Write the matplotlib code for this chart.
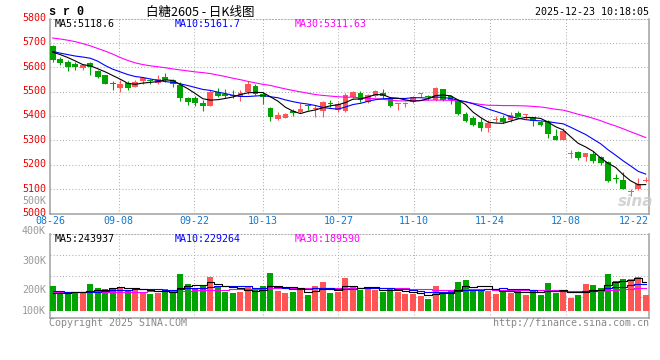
import numpy as np
import matplotlib
matplotlib.use("Agg")
import matplotlib.pyplot as plt
from matplotlib.transforms import ScaledTranslation

# ---------------- data ----------------
date_labels = ['08-26', '09-08', '09-22', '10-13', '10-27', '11-10', '11-24', '12-08', '12-22']
date_idx = [0, 9, 19, 28, 38, 48, 58, 68, 78]

open_ = [5686, 5634, 5621, 5612, 5598, 5617, 5585, 5567, 5532, 5515,
         5537, 5519, 5544, 5545, 5537, 5559, 5546, 5526, 5472, 5475,
         5454, 5441, 5497, 5492, 5485, 5479, 5499, 5522, 5492, 5434,
         5388, 5393, 5420, 5418, 5445, 5429, 5422, 5453, 5424, 5420,
         5479, 5495, 5458, 5481, 5495, 5472, 5451, 5451, 5458, 5489,
         5482, 5465, 5510, 5481, 5461, 5408, 5393, 5377, 5352, 5385,
         5393, 5384, 5412, 5403, 5395, 5377, 5377, 5319, 5302, 5243,
         5251, 5232, 5245, 5230, 5211, 5143, 5139, 5088, 5099, 5134]
high = [5690, 5641, 5631, 5621, 5614, 5623, 5590, 5569, 5544, 5547,
        5542, 5547, 5560, 5553, 5567, 5576, 5553, 5540, 5479, 5484,
        5465, 5508, 5516, 5509, 5506, 5506, 5544, 5533, 5499, 5438,
        5415, 5414, 5430, 5452, 5449, 5445, 5462, 5465, 5458, 5496,
        5503, 5502, 5492, 5506, 5509, 5479, 5454, 5458, 5481, 5495,
        5488, 5520, 5512, 5486, 5465, 5418, 5400, 5393, 5384, 5400,
        5404, 5415, 5420, 5407, 5397, 5381, 5384, 5346, 5350, 5259,
        5255, 5248, 5255, 5237, 5214, 5164, 5169, 5101, 5146, 5150]
low = [5622, 5609, 5585, 5587, 5589, 5567, 5556, 5530, 5508, 5500,
       5508, 5517, 5530, 5533, 5530, 5540, 5519, 5462, 5446, 5443,
       5420, 5440, 5479, 5472, 5475, 5462, 5490, 5485, 5449, 5381,
       5384, 5390, 5401, 5411, 5424, 5395, 5397, 5438, 5415, 5418,
       5472, 5458, 5452, 5479, 5472, 5435, 5424, 5435, 5454, 5479,
       5465, 5462, 5462, 5451, 5404, 5377, 5359, 5340, 5336, 5374,
       5373, 5374, 5395, 5386, 5361, 5357, 5309, 5300, 5300, 5228,
       5221, 5214, 5207, 5200, 5130, 5126, 5099, 5071, 5096, 5128]
close = [5628, 5617, 5601, 5601, 5609, 5600, 5560, 5533, 5530, 5533,
         5516, 5540, 5557, 5543, 5551, 5548, 5530, 5472, 5458, 5452,
         5443, 5499, 5484, 5481, 5483, 5495, 5533, 5492, 5479, 5397,
         5404, 5410, 5411, 5430, 5441, 5431, 5458, 5451, 5449, 5488,
         5499, 5465, 5487, 5502, 5481, 5441, 5453, 5453, 5479, 5491,
         5480, 5515, 5465, 5465, 5407, 5381, 5363, 5352, 5373, 5387,
         5377, 5404, 5397, 5405, 5381, 5363, 5327, 5302, 5340, 5245,
         5228, 5248, 5214, 5207, 5133, 5141, 5101, 5090, 5123, 5136]

ma5 = [5662, 5652, 5640, 5626, 5611, 5606, 5594, 5581, 5566, 5551,
       5534, 5530, 5535, 5538, 5541, 5548, 5546, 5529, 5512, 5492,
       5471, 5465, 5467, 5472, 5478, 5488, 5495, 5497, 5496, 5479,
       5461, 5436, 5420, 5410, 5419, 5425, 5434, 5442, 5446, 5455,
       5469, 5470, 5478, 5488, 5487, 5475, 5473, 5466, 5461, 5463,
       5471, 5484, 5486, 5483, 5466, 5447, 5416, 5394, 5375, 5371,
       5370, 5379, 5388, 5394, 5393, 5390, 5375, 5356, 5343, 5315,
       5288, 5273, 5255, 5228, 5206, 5189, 5159, 5134, 5118, 5118.6]
ma10 = [5665, 5658, 5652, 5646, 5642, 5637, 5625, 5607, 5592, 5581,
        5570, 5562, 5558, 5552, 5546, 5541, 5538, 5532, 5525, 5517,
        5509, 5505, 5498, 5492, 5485, 5480, 5480, 5482, 5484, 5479,
        5475, 5466, 5459, 5453, 5449, 5443, 5435, 5431, 5428, 5437,
        5447, 5452, 5460, 5467, 5471, 5472, 5472, 5472, 5475, 5475,
        5473, 5478, 5476, 5472, 5465, 5459, 5450, 5440, 5429, 5419,
        5409, 5397, 5391, 5385, 5382, 5380, 5377, 5372, 5368, 5354,
        5339, 5324, 5305, 5286, 5261, 5239, 5216, 5195, 5173, 5161.7]
ma30 = [5720, 5716, 5711, 5705, 5697, 5688, 5677, 5666, 5654, 5640,
        5628, 5618, 5611, 5606, 5602, 5598, 5593, 5589, 5585, 5581,
        5578, 5574, 5568, 5562, 5555, 5549, 5542, 5536, 5530, 5525.5,
        5518.0, 5511.1, 5504.8, 5499.1, 5493.5, 5487.9, 5484.5, 5481.7, 5479.0, 5477.5,
        5477.0, 5474.5, 5472.1, 5470.8, 5468.4, 5464.9, 5462.3, 5461.7, 5462.4, 5463.7,
        5464.9, 5465.4, 5464.8, 5464.3, 5461.7, 5457.9, 5452.3, 5447.6, 5444.1, 5443.7,
        5442.8, 5442.6, 5442.2, 5441.3, 5439.3, 5437.1, 5432.7, 5427.7, 5424.1, 5416.0,
        5407.0, 5399.7, 5390.6, 5380.8, 5369.2, 5359.2, 5347.5, 5335.4, 5323.5, 5311.63]

volume_k = [210, 148, 148, 148, 148, 227, 193, 185, 193, 202,
            176, 193, 162, 142, 148, 185, 170, 312, 227, 185,
            210, 287, 213, 159, 151, 159, 199, 173, 210, 320,
            168, 151, 159, 176, 134, 210, 244, 151, 162, 278,
            199, 176, 182, 176, 162, 185, 156, 142, 142, 125,
            100, 210, 159, 176, 244, 261, 185, 182, 170, 142,
            176, 153, 176, 134, 176, 134, 236, 151, 176, 108,
            134, 227, 219, 193, 312, 253, 270, 270, 287, 134]
vma5 = [150, 150, 152, 155, 160, 164, 173, 180, 189, 200,
        190, 190, 185, 175, 164, 166, 161, 191, 208, 216,
        221, 244, 224, 211, 204, 194, 176, 168, 178, 212,
        214, 204, 202, 195, 158, 166, 185, 183, 180, 209,
        207, 193, 199, 202, 179, 176, 172, 164, 157, 150,
        133, 144, 147, 154, 178, 210, 205, 210, 208, 188,
        171, 165, 163, 156, 163, 155, 171, 166, 175, 161,
        161, 159, 173, 176, 217, 241, 249, 260, 278, 243.9]
vma10 = [167, 165, 162, 160, 158, 158, 160, 165, 172, 180,
         177, 181, 183, 182, 182, 178, 176, 188, 192, 190,
         193, 203, 208, 210, 210, 207, 210, 196, 195, 208,
         204, 190, 185, 187, 185, 190, 195, 192, 188, 183,
         186, 189, 191, 191, 194, 192, 183, 182, 180, 165,
         155, 158, 156, 156, 164, 172, 174, 178, 181, 183,
         191, 185, 187, 182, 176, 163, 168, 165, 165, 162,
         158, 165, 170, 175, 189, 201, 204, 216, 227, 229.3]
vma30 = [155, 155, 156, 156, 157, 157, 158, 158, 159, 160,
         161, 162, 163, 164, 165, 166, 167, 168, 170, 172,
         174, 176, 178, 180, 182, 184, 186, 188, 190, 192.8,
         191.4, 191.5, 191.8, 192.8, 192.3, 191.7, 193.4, 192.3, 191.3, 193.8,
         194.6, 194.0, 194.7, 195.8, 196.3, 196.3, 195.8, 190.1, 187.3, 185.3,
         181.6, 179.1, 177.3, 177.8, 180.9, 184.3, 183.9, 184.2, 182.8, 176.9,
         177.2, 177.2, 177.8, 176.4, 177.8, 175.3, 175.0, 175.0, 175.5, 169.8,
         167.6, 169.3, 170.6, 171.1, 176.1, 178.4, 182.2, 186.5, 191.3, 189.59]

price_ticks = [5000, 5100, 5200, 5300, 5400, 5500, 5600, 5700, 5800]
vol_tick_labels = ['500K', '400K', '300K', '200K', '100K']

# ---------------- style ----------------
W, H = 660, 360
RED = '#ff5555'
GREEN = '#00a400'
GRID = '#b0b0b0'
SPINE = '#a0a0a0'
MONO = ['DejaVu Sans Mono']
CJK = ['Noto Sans CJK SC', 'DejaVu Sans']
DOT = (0, (1, 2))

fig = plt.figure(figsize=(6.6, 3.6), dpi=100)
fig.patch.set_facecolor('white')


def rect(l, t, r, b):
    return [l / W, 1 - b / H, (r - l) / W, (b - t) / H]


ax = fig.add_axes(rect(50.5, 18.5, 649, 213.5))
axv = fig.add_axes(rect(50.5, 234, 649, 318))

o = np.array(open_, float)
c = np.array(close, float)
hi = np.array(high, float)
lo = np.array(low, float)
n = len(c)
x = np.arange(n)
XL = (-0.293, 79.44)
colors = [RED if cc >= oo else GREEN for oo, cc in zip(o, c)]

# grid positions on the date scale
gx = [XL[0] + i * (XL[1] - XL[0]) / 79 for i in date_idx]

for a in (ax, axv):
    a.set_xlim(*XL)
    a.set_xticks([])
    for g in gx[1:-1]:
        a.axvline(g, color=GRID, lw=0.75, ls=DOT, zorder=1)
    for s in ('left', 'right', 'bottom'):
        a.spines[s].set_color(SPINE)
        a.spines[s].set_linewidth(1.1)
    a.spines['top'].set_color(GRID)
    a.spines['top'].set_linestyle(DOT)
    a.spines['top'].set_linewidth(0.75)
    a.tick_params(length=0)

# ---- price panel ----
ax.set_ylim(5000, 5800)
for p in price_ticks[1:-1]:
    ax.axhline(p, color=GRID, lw=0.75, ls=DOT, zorder=1)
ax.vlines(x, lo, hi, colors=colors, lw=0.8, zorder=3)
body_lo = np.minimum(o, c)
body_h = np.maximum(np.abs(c - o), 4.0)
ax.bar(x, body_h, bottom=body_lo, width=0.76, color=colors, lw=0, zorder=4)
ax.plot(x, ma30, color='#ff00ff', lw=0.8, zorder=5)
ax.plot(x, ma10, color='#0000ff', lw=0.8, zorder=5)
ax.plot(x, ma5, color='#000000', lw=0.8, zorder=6)

ax.set_yticks(price_ticks)
ax.set_yticklabels([str(p) for p in price_ticks], color='#ee0000',
                   fontsize=7.2, family=MONO)
ax.tick_params(axis='y', pad=3.2)
off = ScaledTranslation(0, 1.6 / 100, fig.dpi_scale_trans)
for lab in ax.get_yticklabels():
    lab.set_transform(lab.get_transform() + off)

# date labels
for i, (lbl, gpos) in enumerate(zip(date_labels, gx)):
    if i == len(date_labels) - 1:
        ax.text(1.0, -0.041, lbl, transform=ax.transAxes, ha='right', va='center',
                color='#1177cc', fontsize=7.2, family=MONO)
    else:
        ax.text(gpos, -0.041, lbl, transform=ax.get_xaxis_transform(), ha='center',
                va='center', color='#1177cc', fontsize=7.2, family=MONO)

# ---- volume panel ----
vol = np.array(volume_k, float)
axv.set_ylim(-62.05, 651.95)
for f in (0.25, 0.5, 0.75):
    axv.plot([0, 1], [f, f], transform=axv.transAxes, color=GRID, lw=0.75,
             ls=DOT, zorder=1)
axv.bar(x, vol, width=0.8, color=colors, lw=0, zorder=3)
axv.plot(x, vma30, color='#ff00ff', lw=0.8, drawstyle='steps-mid', zorder=4)
axv.plot(x, vma10, color='#0000ff', lw=0.8, drawstyle='steps-mid', zorder=4)
axv.plot(x, vma5, color='#000000', lw=0.8, drawstyle='steps-mid', zorder=5)
axv.set_yticks([])

# volume axis labels (positions as in the reference)
for lab, py in zip(vol_tick_labels, [200.7, 230.7, 260.7, 290.0, 310.7]):
    fig.text(46 / W, 1 - py / H, lab, ha='right', va='center', color='#999999',
             fontsize=7.2, family=MONO)

# ---- texts ----
def ftext(px, py, s, **kw):
    kw.setdefault('family', MONO)
    kw.setdefault('fontsize', 7.2)
    kw.setdefault('va', 'center')
    return fig.text(px / W, 1 - py / H, s, **kw)


ftext(49, 12, 's r 0', fontsize=8.5, fontweight='bold', color='black',
      family=['Liberation Mono', 'DejaVu Sans Mono'])
ftext(200, 12, '白糖2605 - 日K线图', ha='center', fontsize=9, color='black',
      family=CJK)
ftext(649, 12, '2025-12-23 10:18:05', ha='right', color='black')

ftext(54.3, 24, 'MA5:%.1f' % ma5[-1], color='black')
ftext(174.3, 24, 'MA10:%.1f' % ma10[-1], color='#0000ff')
ftext(295, 24, 'MA30:%.2f' % ma30[-1], color='#ff00ff')

ftext(54.3, 238.5, 'MA5:%d' % 243937, color='black')
ftext(174.7, 238.5, 'MA10:%d' % 229264, color='#0000ff')
ftext(295, 238.5, 'MA30:%d' % 189590, color='#ff00ff')

ftext(49.3, 323.5, 'Copyright 2025 SINA.COM', color='#888888')
ftext(649.3, 323.5, 'http://finance.sina.com.cn', ha='right', color='#888888')

# sina watermark
ftext(636, 202, 'sina', ha='center', fontsize=11, fontweight='bold', style='italic',
      color='#c8c8c8', family=['DejaVu Sans'], alpha=0.8)

fig.savefig('out.png', dpi=100, facecolor='white')
